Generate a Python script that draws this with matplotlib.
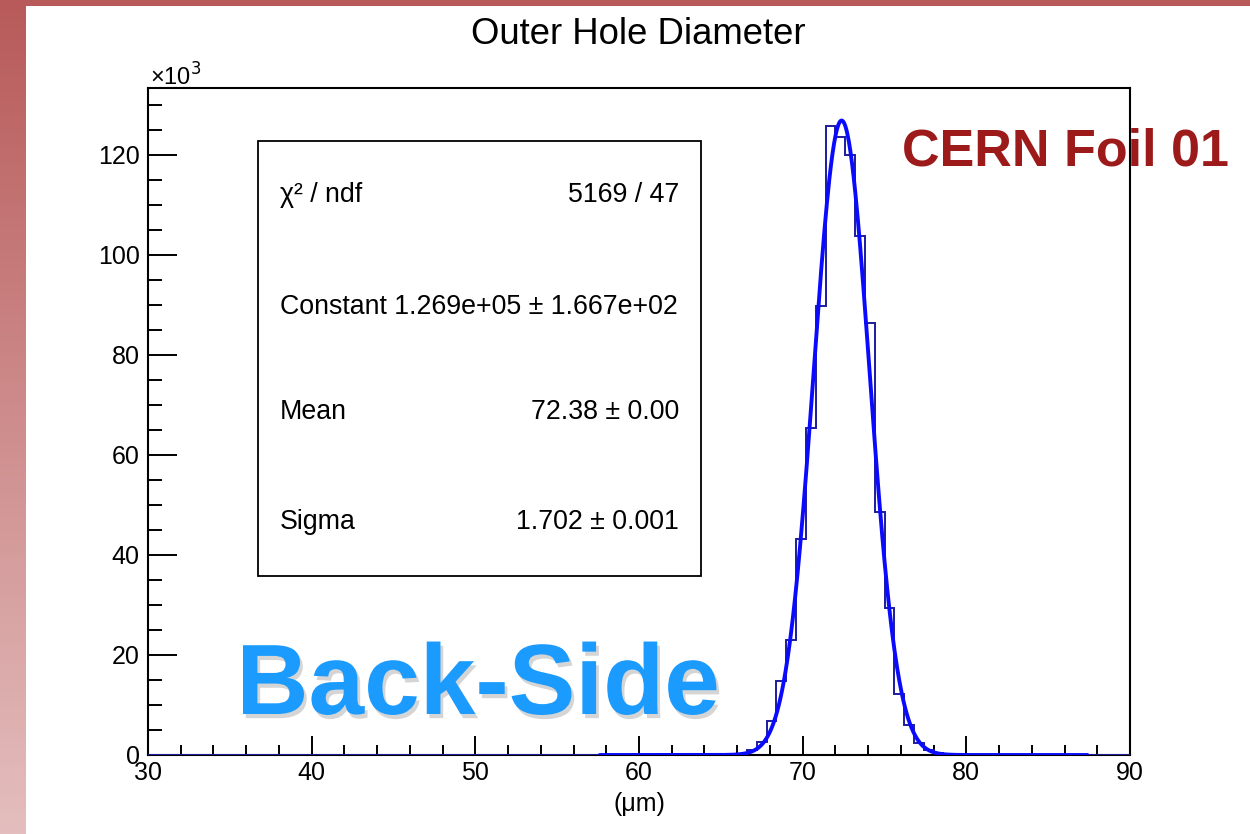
import numpy as np
import matplotlib
matplotlib.use("Agg")
import matplotlib.pyplot as plt
from matplotlib.patches import Rectangle
import matplotlib.patheffects as pe

plt.rcParams['font.family'] = ['Liberation Sans', 'DejaVu Sans']

# ---------------- data (counts in units of 10^3) ----------------
bin_lo, bin_hi, n_bins = 30.0, 90.0, 100
# non-zero bins: first bin lower edge and contents
first_edge = 65.4
counts = [0.1, 0.3, 1.0, 2.6, 6.9, 14.9, 23.0, 43.2, 65.5, 89.8,
          125.9, 123.7, 120.1, 103.8, 86.5, 48.7, 29.5, 12.3, 6.0, 2.5,
          1.0, 0.4, 0.15, 0.05]
# Gaussian fit parameters (from stats box)
fit_constant = 126.9   # x10^3
fit_mean = 72.38
fit_sigma = 1.702
fit_range = (57.6, 87.4)

stats_labels = ["χ² / ndf", "Constant 1.269e+05 ± 1.667e+02", "Mean", "Sigma"]
stats_values = ["5169 / 47", "", "72.38 ± 0.00", "1.702 ± 0.001"]

# ---------------- figure ----------------
W, H = 1250, 834
fig = plt.figure(figsize=(W / 100, H / 100), dpi=100)
fig.patch.set_facecolor('white')

# decorative slide strips
bg = fig.add_axes([0, 0, 26 / W, 1])
grad = np.linspace(0, 1, 256)[:, None]
c_top = np.array([184, 90, 90]) / 255
c_bot = np.array([228, 190, 190]) / 255
img = c_top[None, None, :] * (1 - grad[:, :, None]) + c_bot[None, None, :] * grad[:, :, None]
bg.imshow(img, aspect='auto', extent=[0, 1, 0, 1])
bg.axis('off')
fig.patches.append(Rectangle((26 / W, 1 - 6 / H), 1, 6 / H, transform=fig.transFigure,
                             facecolor='#b85a5a', edgecolor='none', zorder=0))

ax = fig.add_axes([148 / W, 1 - 755 / H, (1130 - 148) / W, (755 - 88) / H])

edges = np.linspace(bin_lo, bin_hi, n_bins + 1)
vals = np.zeros(n_bins)
i0 = int(round((first_edge - bin_lo) / ((bin_hi - bin_lo) / n_bins)))
vals[i0:i0 + len(counts)] = counts
ax.stairs(vals, edges, color='#1c1c9c', linewidth=1.4, zorder=3)

xf = np.linspace(fit_range[0], fit_range[1], 600)
yf = fit_constant * np.exp(-0.5 * ((xf - fit_mean) / fit_sigma) ** 2)
ax.plot(xf, yf, color='#0a0aff', linewidth=2.8, zorder=4, solid_capstyle='round')

ax.set_xlim(bin_lo, bin_hi)
ax.set_ylim(0, 133.4)
ax.set_xticks(np.arange(30, 91, 10))
ax.set_xticks(np.arange(30, 91, 2), minor=True)
ax.set_yticks(np.arange(0, 121, 20))
ax.set_yticks(np.arange(0, 131, 5), minor=True)
ax.tick_params(axis='both', which='both', direction='in', top=False, right=False,
               width=1.4, labelsize=18, color='black')
ax.tick_params(axis='x', which='major', length=14, pad=4)
ax.tick_params(axis='x', which='minor', length=7)
ax.tick_params(axis='y', which='major', length=21, pad=6)
ax.tick_params(axis='y', which='minor', length=10)
for s in ax.spines.values():
    s.set_linewidth(1.5)

ax.set_xlabel("(μm)", fontsize=18, labelpad=5)
fig.text(150 / W, 1 - 77 / H, "×10$^{3}$", fontsize=17, ha='left', va='center')
fig.text(638 / W, 1 - 35 / H, "Outer Hole Diameter", fontsize=26.3, ha='center', va='center')

# stats box
bx0, bx1 = (258 - 148) / 982, (701 - 148) / 982
by0, by1 = (755 - 576) / 667, (755 - 141) / 667
ax.add_patch(Rectangle((bx0, by0), bx1 - bx0, by1 - by0, transform=ax.transAxes,
                       facecolor='white', edgecolor='black', linewidth=1.3, zorder=5))
row_y = [195, 307, 412, 522]
for lab, val, yy in zip(stats_labels, stats_values, row_y):
    ya = (755 - yy) / 667
    ax.text((280 - 148) / 982, ya, lab, transform=ax.transAxes, fontsize=19.3,
            ha='left', va='center', zorder=6)
    if val:
        ax.text((679 - 148) / 982, ya, val, transform=ax.transAxes, fontsize=19.3,
                ha='right', va='center', zorder=6)

fig.text(1066 / W, 1 - 152 / H, "CERN Foil 01", fontsize=37.5, fontweight='bold',
         color='#9c1a1a', ha='center', va='center', zorder=10)
fig.text(478 / W, 1 - 688 / H, "Back-Side", fontsize=72, fontweight='bold',
         color='#1c9bff', ha='center', va='center', zorder=10,
         path_effects=[pe.SimplePatchShadow(offset=(2, -3), shadow_rgbFace='#888888', alpha=0.35),
                       pe.Normal()])

fig.savefig("out.png", dpi=100)
